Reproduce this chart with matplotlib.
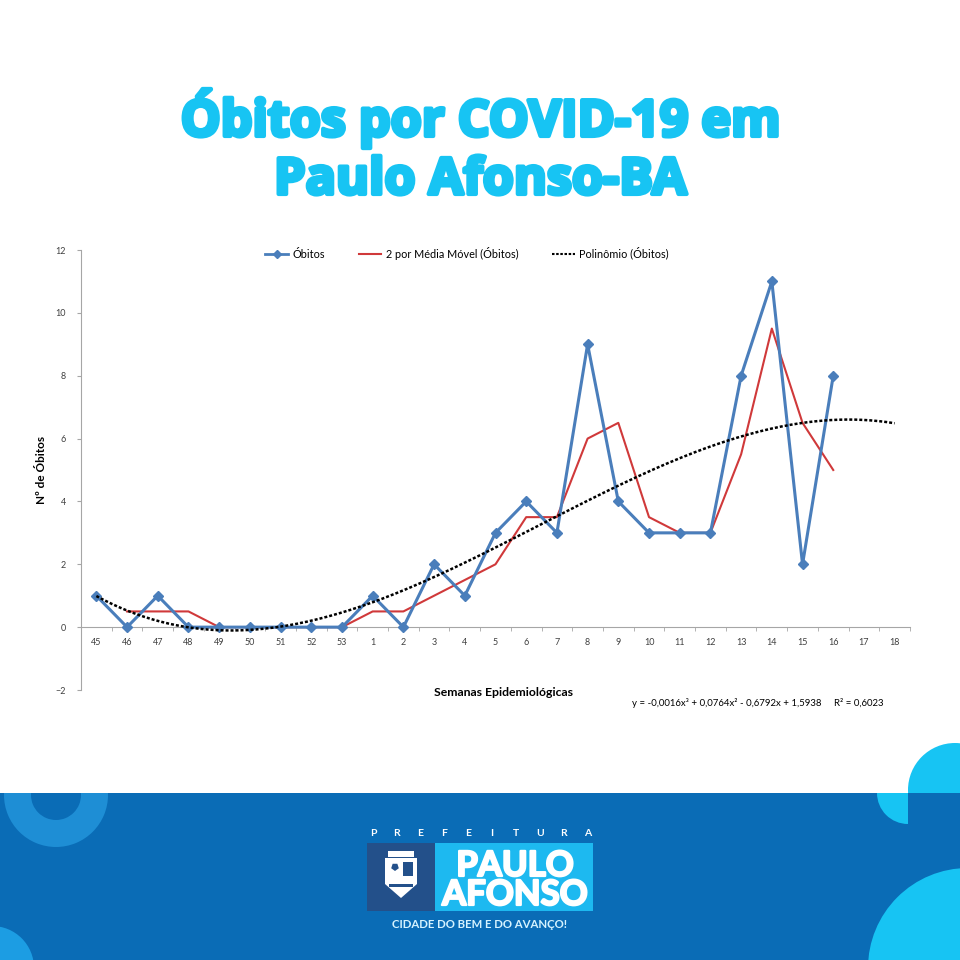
import numpy as np
import matplotlib
matplotlib.use("Agg")
import matplotlib.pyplot as plt
import matplotlib.patheffects as pe
from matplotlib.patches import Rectangle, Circle, Wedge, Polygon, RegularPolygon
from matplotlib.lines import Line2D

# ---------------- data ----------------
weeks = ["45", "46", "47", "48", "49", "50", "51", "52", "53", "1", "2", "3", "4",
         "5", "6", "7", "8", "9", "10", "11", "12", "13", "14", "15", "16", "17", "18"]
obitos = [1, 0, 1, 0, 0, 0, 0, 0, 0, 1, 0, 2, 1, 3, 4, 3, 9, 4, 3, 3, 3, 8, 11, 2, 8]
media_movel = [0.5, 0.5, 0.5, 0, 0, 0, 0, 0, 0.5, 0.5, 1, 1.5, 2, 3.5, 3.5, 6, 6.5,
               3.5, 3, 3, 5.5, 9.5, 6.5, 5]           # starts at week 46
y_ticks = [-2, 0, 2, 4, 6, 8, 10, 12]

title_lines = ["Óbitos por COVID-19 em", "Paulo Afonso-BA"]
eq_text = "y = -0,0016x³ + 0,0764x² - 0,6792x + 1,5938     R² = 0,6023"
prefeitura = "PREFEITURA"

CYAN = "#17C4F3"
BAND = "#0A6CB6"
BLUE = "#4A7EBB"
RED = "#D0393A"

plt.rcParams['font.family'] = ['Lato', 'DejaVu Sans']

fig = plt.figure(figsize=(9.6, 9.6), dpi=100)
fig.patch.set_facecolor("white")

# ---------------- background decorations (pixel coords) ----------------
bg = fig.add_axes([0, 0, 1, 1], zorder=0)
bg.set_xlim(0, 960)
bg.set_ylim(960, 0)
bg.axis("off")

bg.add_patch(Circle((955, 790), 47, color=CYAN, lw=0))
band = Rectangle((0, 793), 960, 167, color=BAND, lw=0)
bg.add_patch(band)
ring = Wedge((56, 795), 52, 0, 360, width=27, color="#1E8ED5", lw=0)
bg.add_patch(ring)
ring.set_clip_path(band)
q = Wedge((908, 793), 31, 90, 180, color=CYAN, lw=0)
bg.add_patch(q)
c1 = Circle((-8, 968), 42, color="#1C9DE3", lw=0)
bg.add_patch(c1)
c1.set_clip_path(band)
c2 = Circle((968, 968), 100, color=CYAN, lw=0)
bg.add_patch(c2)
c2.set_clip_path(band)

# logo
for i, ch in enumerate(prefeitura):
    bg.text(373 + i * 23.8, 833, ch, ha="center", va="center",
            color="white", fontsize=7.5, fontweight="bold")
bg.add_patch(Rectangle((367, 843), 68, 68, color="#23508A", lw=0))
bg.add_patch(Rectangle((435, 843), 158, 68, color="#1DB9F0", lw=0))
# emblem (simplified crest)
shield = Polygon([(385, 858), (417, 858), (417, 884), (401, 898), (385, 884)],
                 closed=True, color="white", lw=0)
bg.add_patch(shield)
bg.add_patch(Rectangle((388, 851), 26, 6, color="white", lw=0))
bg.add_patch(RegularPolygon((395, 867), 5, radius=4, color="#23508A", lw=0))
bg.add_patch(Rectangle((403, 862), 10, 14, color="#23508A", lw=0))
bg.add_patch(Rectangle((389, 884), 24, 3, color="#23508A", lw=0))
heavy_w = [pe.withStroke(linewidth=1.6, foreground="white")]
bg.text(515, 876, "PAULO", ha="center", va="baseline", color="white",
        fontsize=25, fontweight="bold", path_effects=heavy_w)
bg.text(515, 905, "AFONSO", ha="center", va="baseline", color="white",
        fontsize=25, fontweight="bold", path_effects=heavy_w)
bg.text(480, 925, "CIDADE DO BEM E DO AVANÇO!", ha="center", va="center",
        color="#D6F3FF", fontsize=8.2, fontweight="bold")

# title
heavy_c = [pe.withStroke(linewidth=3.0, foreground=CYAN)]
for txt, yb in zip(title_lines, [136, 194]):
    bg.text(480, yb, txt, ha="center", va="baseline", color=CYAN,
            fontsize=36.2, fontweight="bold", family=["Open Sans", "DejaVu Sans"],
            path_effects=heavy_c)

# ---------------- chart ----------------
ax = fig.add_axes([81 / 960, 1 - 690 / 960, (910 - 81) / 960, 440 / 960], zorder=1)
ax.set_facecolor("none")

x_all = np.arange(len(weeks))
x_ob = x_all[:len(obitos)]
x_mm = x_all[1:1 + len(media_movel)]

# polynomial trendline (3rd order least squares fit, Excel style x = 1..n)
coef = np.polyfit(x_ob + 1, obitos, 3)
xs = np.linspace(0, len(weeks) - 1, 300)
ys = np.polyval(coef, xs + 1)

ax.plot(x_mm, media_movel, color=RED, lw=1.5, zorder=3,
        label="2 por Média Móvel (Óbitos)")
ax.plot(x_ob, obitos, color=BLUE, lw=2.2, marker="D", ms=5, zorder=4,
        label="Óbitos")
ax.plot(xs, ys, color="black", lw=1.8, ls=(0, (1.2, 0.8)), zorder=5,
        label="Polinômio (Óbitos)")

ax.set_xlim(-0.5, len(weeks) - 0.5)
ax.set_ylim(-2, 12)
ax.set_yticks(y_ticks)
ax.set_xticks(x_all)
ax.set_xticklabels(weeks)
ax.set_xticks(np.arange(len(weeks) + 1) - 0.5, minor=True)

for s in ["top", "right"]:
    ax.spines[s].set_visible(False)
ax.spines["bottom"].set_position(("data", 0))
ax.spines["bottom"].set_color("#A6A6A6")
ax.spines["left"].set_color("#A6A6A6")
ax.tick_params(axis="x", which="major", length=0, labelsize=6.5,
               labelcolor="#404040", pad=8)
ax.tick_params(axis="x", which="minor", length=3, color="#A6A6A6", direction="out")
ax.tick_params(axis="y", length=3, color="#A6A6A6", labelsize=6.5,
               labelcolor="#404040", pad=8)

ax.set_ylabel("Nº de Óbitos", fontsize=8.5, fontweight="bold", labelpad=6)
fig.text(504 / 960, 1 - 692 / 960, "Semanas Epidemiológicas", ha="center",
         va="center", fontsize=8.8, fontweight="bold", color="black")
fig.text(758 / 960, 1 - 703 / 960, eq_text, ha="center", va="center",
         fontsize=6.9, color="black")

handles = [
    Line2D([], [], color=BLUE, lw=2, marker="D", ms=4),
    Line2D([], [], color=RED, lw=1.5),
    Line2D([], [], color="black", lw=1.5, ls=(0, (1.2, 0.8))),
]
labels = ["Óbitos", "2 por Média Móvel (Óbitos)", "Polinômio (Óbitos)"]
fig.legend(handles, labels, loc="center", bbox_to_anchor=(467 / 960, 1 - 253 / 960),
           ncol=3, frameon=False, fontsize=7.8, handlelength=2.1,
           handletextpad=0.4, columnspacing=3.1)

fig.savefig("out.png", dpi=100, facecolor="white")
